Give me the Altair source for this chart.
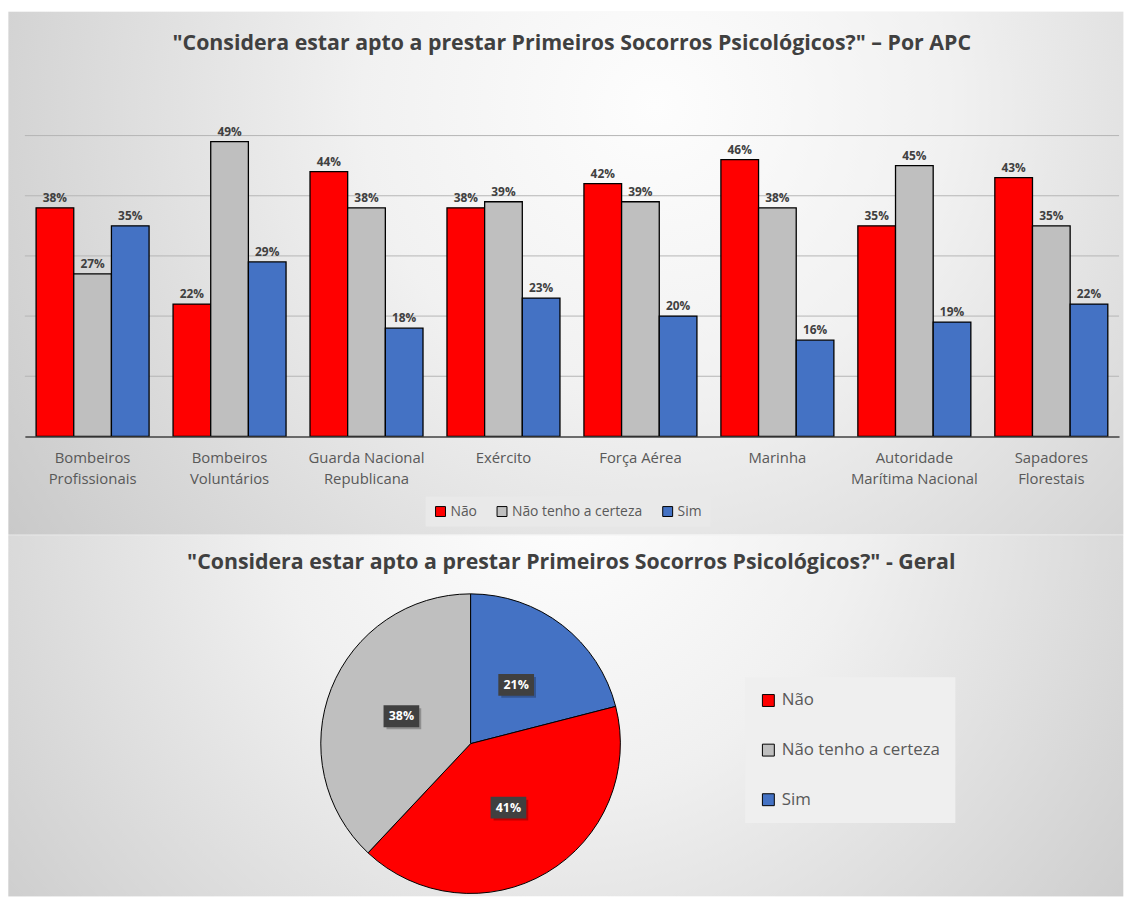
import json
import altair as alt
import pandas as pd

# ---------------- data ----------------
CATEGORIES = [
    "Bombeiros Profissionais",
    "Bombeiros Voluntários",
    "Guarda Nacional Republicana",
    "Exército",
    "Força Aérea",
    "Marinha",
    "Autoridade Marítima Nacional",
    "Sapadores Florestais",
]
LABEL_LINES = {
    "Bombeiros Profissionais": ["Bombeiros", "Profissionais"],
    "Bombeiros Voluntários": ["Bombeiros", "Voluntários"],
    "Guarda Nacional Republicana": ["Guarda Nacional", "Republicana"],
    "Exército": ["Exército"],
    "Força Aérea": ["Força Aérea"],
    "Marinha": ["Marinha"],
    "Autoridade Marítima Nacional": ["Autoridade", "Marítima Nacional"],
    "Sapadores Florestais": ["Sapadores", "Florestais"],
}
SERIES = ["Não", "Não tenho a certeza", "Sim"]
NAO = [38, 22, 44, 38, 42, 46, 35, 43]
NAO_TENHO = [27, 49, 38, 39, 39, 38, 45, 35]
SIM = [35, 29, 18, 23, 20, 16, 19, 22]
COLORS = ["#FF0000", "#BFBFBF", "#4472C4"]
GRID = [10, 20, 30, 40, 50]

PIE_SERIES = ["Sim", "Não", "Não tenho a certeza"]
PIE_VALUES = [21, 41, 38]
PIE_ORDER = [0, 1, 2]

TITLE_TOP = '"Considera estar apto a prestar Primeiros Socorros Psicológicos?" – Por APC'
TITLE_BOTTOM = '"Considera estar apto a prestar Primeiros Socorros Psicológicos?" - Geral'

FONT = "Open Sans"
TEXT_DARK = "#404040"
TEXT_GREY = "#595959"

# ---------------- tables ----------------
rows = []
for i, c in enumerate(CATEGORIES):
    for s, vals in zip(SERIES, [NAO, NAO_TENHO, SIM]):
        rows.append({"category": c, "series": s, "value": vals[i]})
bar_df = pd.DataFrame(rows)
grid_df = pd.DataFrame({"g": GRID})
pie_df = pd.DataFrame({"series": PIE_SERIES, "value": PIE_VALUES, "order": PIE_ORDER})
one = pd.DataFrame({"a": [0]})

label_expr = "datum.label"
for k, lines in reversed(list(LABEL_LINES.items())):
    label_expr = (
        f"datum.label === {json.dumps(k, ensure_ascii=False)} ? "
        f"{json.dumps(lines, ensure_ascii=False)} : ({label_expr})"
    )

# ---------------- layout ----------------
W1, H1 = 1103, 303.3
W2, H2 = 1103, 364
LEFT = 16.7

grad_top = {
    "gradient": "radial",
    "x1": 0.58, "y1": 0.35, "r1": 0,
    "x2": 0.58, "y2": 0.35, "r2": 0.75,
    "stops": [
        {"offset": 0, "color": "#fdfdfd"},
        {"offset": 0.35, "color": "#f1f1f1"},
        {"offset": 1, "color": "#c4c4c4"},
    ],
}
grad_bot = {
    "gradient": "radial",
    "x1": 0.5, "y1": 0.3, "r1": 0,
    "x2": 0.5, "y2": 0.3, "r2": 0.75,
    "stops": [
        {"offset": 0, "color": "#fefefe"},
        {"offset": 0.35, "color": "#f0f0f0"},
        {"offset": 1, "color": "#c2c2c2"},
    ],
}

color_scale = alt.Scale(domain=SERIES, range=COLORS)

# ---------------- top: grouped bars ----------------
bg1 = alt.Chart(one).mark_rect(fill=grad_top).encode(
    x=alt.value(-LEFT), x2=alt.value(W1 + 4.3), y=alt.value(-124.7), y2=alt.value(402.3)
)

grid = alt.Chart(grid_df).mark_rule(color="#b5b5b5", strokeWidth=1).encode(
    y=alt.Y("g:Q", scale=alt.Scale(domain=[0, 50]), axis=None),
    x=alt.value(0),
    x2=alt.value(W1),
)

x_enc = alt.X(
    "category:N",
    sort=CATEGORIES,
    scale=alt.Scale(paddingInner=0.175, paddingOuter=0.082),
    axis=alt.Axis(
        title=None,
        labelExpr=label_expr,
        labelAngle=0,
        labelFont=FONT,
        labelFontSize=15,
        labelColor=TEXT_GREY,
        labelLineHeight=21,
        labelPadding=14,
        ticks=False,
        domainColor="#404040",
        domainWidth=1.5,
        zindex=1,
    ),
)
xoff_enc = alt.XOffset("series:N", sort=SERIES, scale=alt.Scale(paddingInner=0, paddingOuter=0))
y_enc = alt.Y("value:Q", scale=alt.Scale(domain=[0, 50]), axis=None)

bars = alt.Chart(bar_df).mark_bar(stroke="black", strokeWidth=1.3).encode(
    x=x_enc,
    xOffset=xoff_enc,
    y=y_enc,
    color=alt.Color(
        "series:N",
        scale=color_scale,
        legend=alt.Legend(
            orient="none",
            legendX=404,
            legendY=364,
            direction="horizontal",
            title=None,
            symbolType="square",
            symbolSize=100,
            symbolStrokeColor="black",
            symbolStrokeWidth=1,
            labelFont=FONT,
            labelFontSize=14,
            labelColor=TEXT_GREY,
            labelOffset=3,
            columnPadding=18,
            fillColor="#e9e9e9",
            padding=8,
        ),
    ),
)

bar_labels = alt.Chart(bar_df).transform_calculate(
    lbl="datum.value + '%'"
).mark_text(
    dy=-10, fontWeight="bold", fontSize=12, font=FONT, color=TEXT_DARK
).encode(x=x_enc, xOffset=xoff_enc, y=y_enc, text="lbl:N")

title1 = alt.Chart(one).mark_text(
    text=TITLE_TOP, font=FONT, fontSize=21.5, fontWeight="bold", color=TEXT_DARK, baseline="middle"
).encode(x=alt.value(551.3), y=alt.value(-92.7))

top = alt.layer(bg1, grid, bars, bar_labels, title1).properties(width=W1, height=H1)

# ---------------- bottom: pie ----------------
CX, CY, R, LR = 449.3, 210, 151, 75

bg2 = alt.Chart(one).mark_rect(fill=grad_bot).encode(
    x=alt.value(-LEFT), x2=alt.value(W2 + 4.3), y=alt.value(0), y2=alt.value(H2)
)

arc = alt.Chart(pie_df).mark_arc(outerRadius=R, stroke="black", strokeWidth=1).encode(
    theta=alt.Theta("value:Q", stack=True),
    order=alt.Order("order:Q"),
    color=alt.Color(
        "series:N",
        scale=color_scale,
        legend=alt.Legend(
            orient="none",
            legendX=726,
            legendY=143,
            direction="vertical",
            title=None,
            symbolType="square",
            symbolSize=144,
            symbolStrokeColor="black",
            symbolStrokeWidth=1,
            labelFont=FONT,
            labelFontSize=17,
            labelColor=TEXT_GREY,
            labelOffset=5,
            rowPadding=32,
            fillColor="#efefef",
            padding=15,
        ),
    ),
    x=alt.value(CX),
    y=alt.value(CY),
)

lab_base = (
    alt.Chart(pie_df)
    .transform_joinaggregate(total="sum(value)")
    .transform_window(cum="sum(value)", sort=[alt.SortField("order")], frame=[None, 0])
    .transform_calculate(
        ang="(datum.cum - datum.value / 2) / datum.total * 2 * PI",
        lbl="datum.value + '%'",
    )
    .transform_calculate(
        lx=f"{CX} + {LR} * sin(datum.ang)",
        ly=f"{CY} - {LR} * cos(datum.ang)",
    )
)

shadow = lab_base.transform_calculate(
    bx1="datum.lx - 15", bx2="datum.lx + 20", by1="datum.ly - 8", by2="datum.ly + 13"
).mark_rect(fill="#000000", opacity=0.25).encode(
    x=alt.X("bx1:Q", scale=None), x2="bx2:Q", y=alt.Y("by1:Q", scale=None), y2="by2:Q"
)

box = lab_base.transform_calculate(
    bx1="datum.lx - 18", bx2="datum.lx + 18", by1="datum.ly - 11", by2="datum.ly + 11"
).mark_rect(fill="#404040").encode(
    x=alt.X("bx1:Q", scale=None), x2="bx2:Q", y=alt.Y("by1:Q", scale=None), y2="by2:Q"
)

pie_txt = lab_base.mark_text(
    color="white", fontWeight="bold", fontSize=12.5, font=FONT, baseline="middle"
).encode(x=alt.X("lx:Q", scale=None), y=alt.Y("ly:Q", scale=None), text="lbl:N")

title2 = alt.Chart(one).mark_text(
    text=TITLE_BOTTOM, font=FONT, fontSize=21.5, fontWeight="bold", color=TEXT_DARK, baseline="middle"
).encode(x=alt.value(550.8), y=alt.value(28))

bottom = alt.layer(bg2, arc, shadow, box, pie_txt, title2).properties(width=W2, height=H2)

chart = (
    alt.vconcat(top, bottom, spacing=0)
    .resolve_scale(color="independent")
    .resolve_legend(color="independent")
    .properties(padding=0, background="white")
    .configure_view(stroke=None)
)

chart.save("out.html", embed_options={"renderer": "svg", "actions": False})
